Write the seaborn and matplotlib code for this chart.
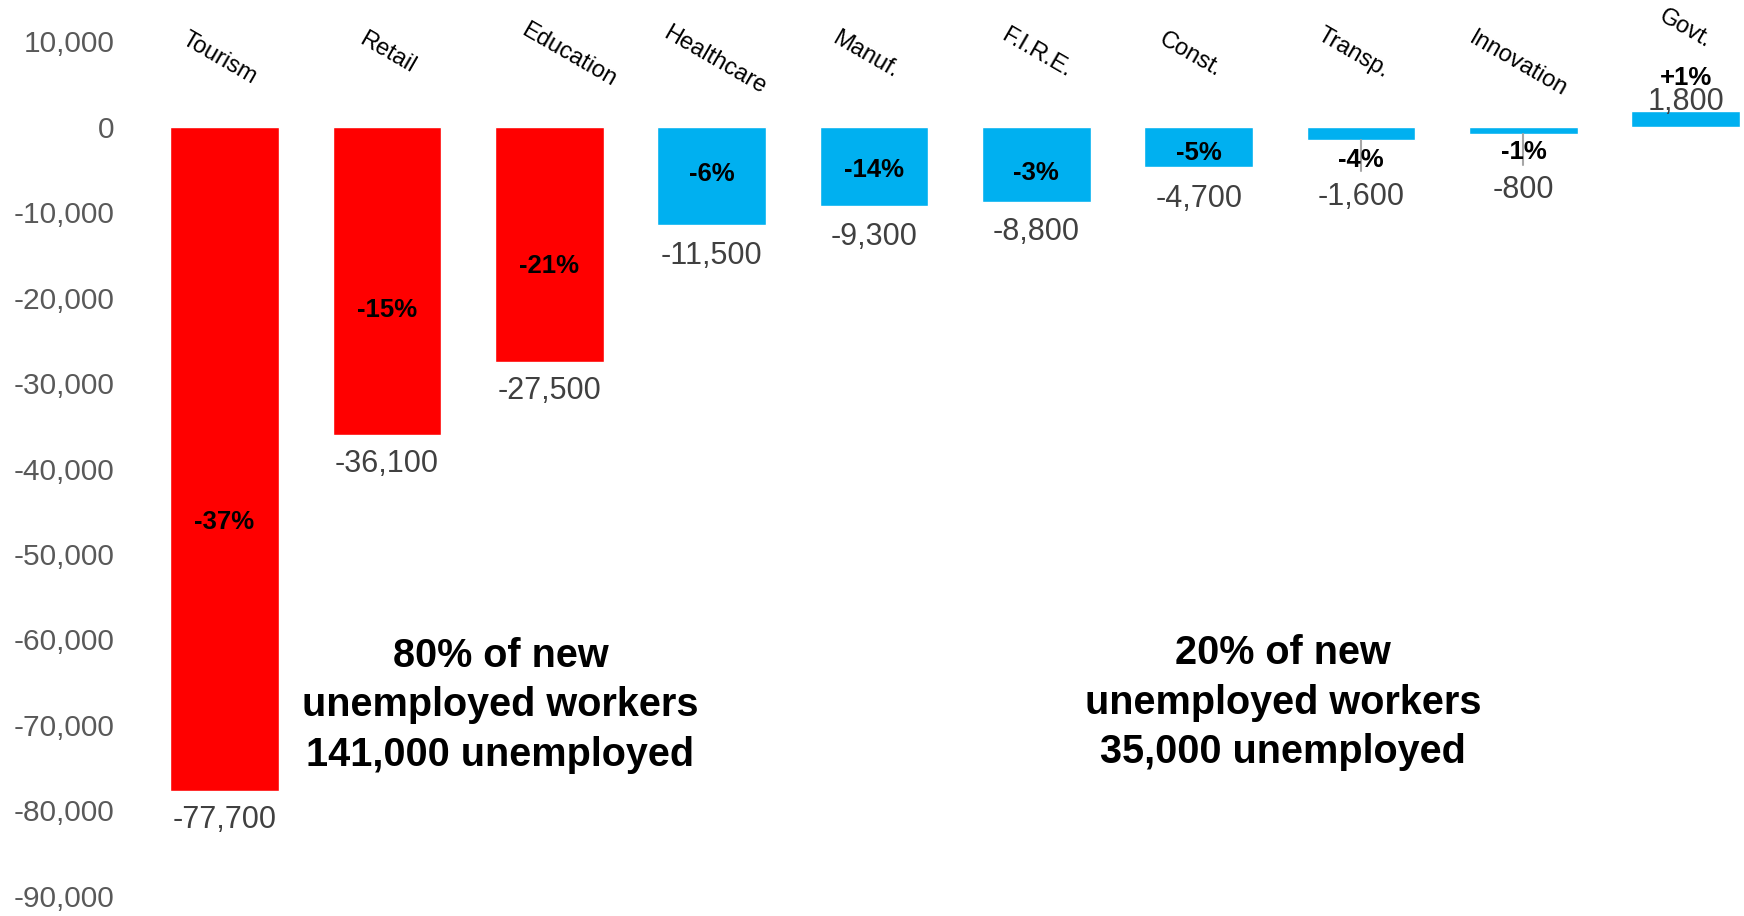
import matplotlib
matplotlib.use("Agg")
import matplotlib.pyplot as plt
import seaborn as sns
import pandas as pd
from matplotlib.ticker import FuncFormatter

# ---- data ----
categories = ["Tourism", "Retail", "Education", "Healthcare", "Manuf.", "F.I.R.E.",
              "Const.", "Transp.", "Innovation", "Govt."]
job_change = [-77700, -36100, -27500, -11500, -9300, -8800, -4700, -1600, -800, 1800]
pct_change = ["-37%", "-15%", "-21%", "-6%", "-14%", "-3%", "-5%", "-4%", "-1%", "+1%"]
group = ["high", "high", "high", "low", "low", "low", "low", "low", "low", "low"]
note_left = "80% of new\nunemployed workers\n141,000 unemployed"
note_right = "20% of new\nunemployed workers\n35,000 unemployed"

# ---- layout (not data) ----
pct_label_y = [-46300, -21400, -16300, -5500, -5100, -5400, -3100, -3900, -3000, 5750]
val_offset_pt = [-21, -21, -21, -22, -22, -22, -23, -41, -41, 7]
cat_label_y = [8000, 8600, 8400, 7800, 8400, 8600, 8400, 8600, 7300, 11500]
cat_label_dx = [-0.03, 0.0, 0.12, 0.02, -0.05, 0.0, -0.05, -0.05, -0.03, 0.0]
leader_bars = {7: -5200, 8: -4500}

RED = "#FF0000"
BLUE = "#00B0F0"

sns.set_theme(style="white")
plt.rcParams["font.family"] = ["Liberation Sans", "DejaVu Sans"]

df = pd.DataFrame({"category": categories, "value": job_change, "group": group})

fig = plt.figure(figsize=(17.44, 9.16), dpi=100)
ax = fig.add_axes([0.0822, 0.022, 0.917, 0.933])

sns.barplot(data=df, x="category", y="value", hue="group",
            palette={"high": RED, "low": BLUE}, width=0.67, dodge=False,
            legend=False, ax=ax, saturation=1)

ax.set_ylim(-90000, 10000)
ax.set_xlim(-0.5, 9.35)
ax.set_yticks(range(-90000, 10001, 10000))
ax.yaxis.set_major_formatter(FuncFormatter(lambda v, p: f"{int(v):,}"))
ax.tick_params(axis="y", length=0, pad=21, labelsize=21.5, labelcolor="#595959")
ax.set_xticks([])
ax.set_xlabel("")
ax.set_ylabel("")
for s in ax.spines.values():
    s.set_visible(False)

# leader lines
for i, yend in leader_bars.items():
    ax.plot([i, i], [job_change[i], yend], color="#A6A6A6", lw=1.5, zorder=1)

# percent labels
for i, y in enumerate(pct_label_y):
    ax.text(i, y, pct_change[i], ha="center", va="center", fontsize=18.5,
            fontweight="bold", color="black", zorder=5)

# value labels
for i, v in enumerate(job_change):
    ax.annotate(f"{v:,}", xy=(i, v), xytext=(0, val_offset_pt[i]),
                textcoords="offset points", ha="center", va="center",
                fontsize=22, color="#404040", zorder=4, annotation_clip=False)

# category labels
for i, c in enumerate(categories):
    ax.text(i + cat_label_dx[i], cat_label_y[i], c, rotation=-30,
            rotation_mode="anchor", ha="center", va="center", fontsize=17,
            color="black", clip_on=False)

# notes
ax.text(1.70, -67700, note_left, ha="center", va="center", fontsize=28.5,
        fontweight="bold", color="black", linespacing=1.38)
ax.text(6.52, -67400, note_right, ha="center", va="center", fontsize=28.5,
        fontweight="bold", color="black", linespacing=1.38)

fig.savefig("out.png", dpi=100)
